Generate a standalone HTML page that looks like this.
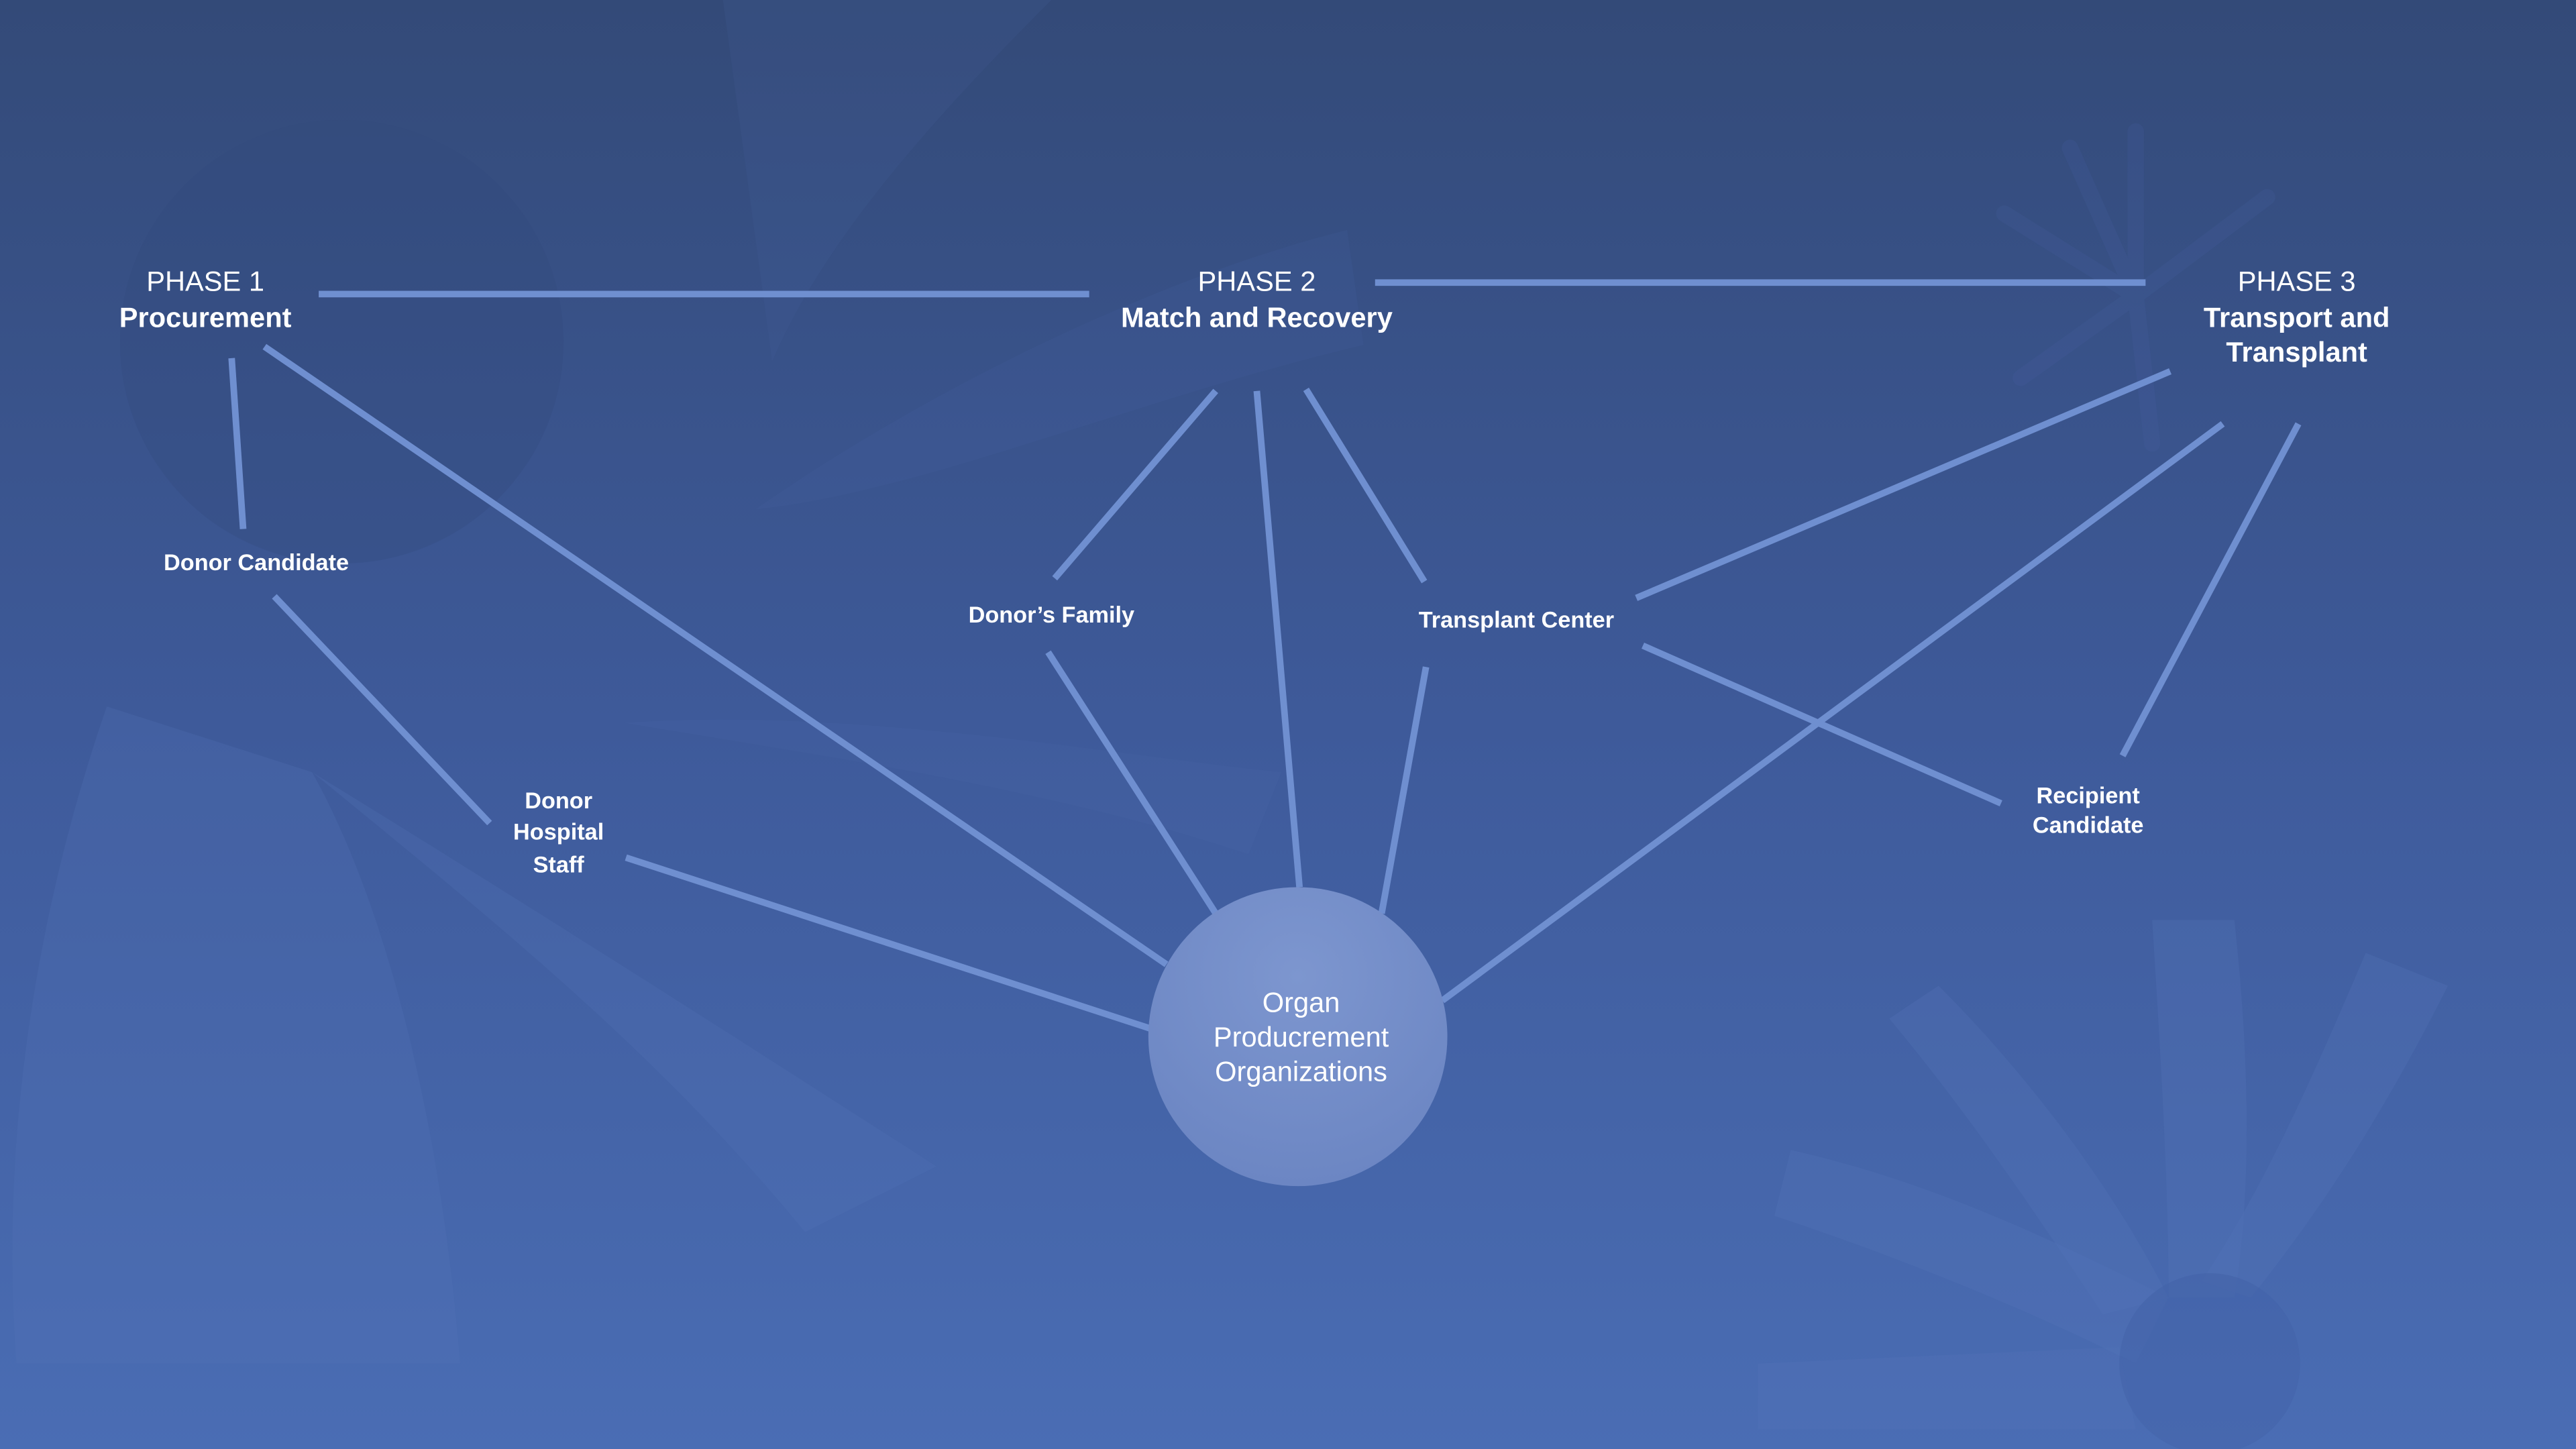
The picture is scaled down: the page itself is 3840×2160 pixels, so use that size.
<!DOCTYPE html>
<html><head><meta charset="utf-8"><style>
html,body{margin:0;padding:0;width:3840px;height:2160px;overflow:hidden}
svg{display:block}
text{font-family:"Liberation Sans",sans-serif;fill:#fff}
</style></head><body>
<svg width="3840" height="2160" viewBox="0 0 1568 882" xmlns="http://www.w3.org/2000/svg">
<defs>
<linearGradient id="bg" x1="0" y1="0" x2="0" y2="1">
<stop offset="0" stop-color="#334a78"/>
<stop offset="0.5" stop-color="#3e5a9a"/>
<stop offset="1" stop-color="#4a6db4"/>
</linearGradient>
<radialGradient id="cg" cx="0.5" cy="0.3" r="0.7">
<stop offset="0" stop-color="#7d96cf"/>
<stop offset="1" stop-color="#6c86c3"/>
</radialGradient>
</defs>
<rect width="1568" height="882" fill="url(#bg)"/>
<g opacity="0.5">
<circle cx="208" cy="208" r="135" fill="#33497d" opacity="0.6"/>
<path d="M65 430 C20 560 0 700 10 830 L280 830 C270 700 240 560 190 470 Z" fill="#5676b8" opacity="0.5"/>
<path d="M190 470 C320 550 430 620 570 710 L490 750 C400 640 300 560 190 470Z" fill="#5676b8" opacity="0.5"/>
<path d="M440 0 L520 0 L640 0 C560 80 500 150 470 220 Z" fill="#4a64a0" opacity="0.3"/>
<path d="M460 310 C560 240 700 170 820 140 L830 210 C700 240 560 300 460 310Z" fill="#4d68a8" opacity="0.3"/>
<path d="M380 440 C520 430 680 460 780 470 L760 520 C640 480 500 460 380 440Z" fill="#4f6cad" opacity="0.3"/>
<path d="M1090 700 C1180 720 1260 760 1320 790 L1300 830 C1220 790 1140 760 1080 740Z" fill="#5a7abd" opacity="0.5"/>
<path d="M1180 600 C1240 660 1290 730 1320 790 L1280 800 C1240 740 1200 680 1150 620Z" fill="#5a7abd" opacity="0.5"/>
<path d="M1310 560 L1360 560 C1370 650 1370 730 1360 790 L1320 790 C1320 720 1315 640 1310 560Z" fill="#5a7abd" opacity="0.5"/>
<path d="M1440 580 L1490 600 C1450 680 1410 740 1370 790 L1340 780 C1380 720 1410 650 1440 580Z" fill="#5a7abd" opacity="0.5"/>
<path d="M1070 830 L1290 820 L1300 870 L1070 870Z" fill="#5a7abd" opacity="0.4"/>
<circle cx="1345" cy="830" r="55" fill="#3f5ea3" opacity="0.6"/>
<g stroke="#4a66a6" stroke-width="10" opacity="0.35" stroke-linecap="round">
<line x1="1300" y1="180" x2="1300" y2="80"/>
<line x1="1300" y1="180" x2="1380" y2="120"/>
<line x1="1300" y1="180" x2="1220" y2="130"/>
<line x1="1300" y1="180" x2="1230" y2="230"/>
<line x1="1300" y1="180" x2="1310" y2="270"/>
<line x1="1300" y1="180" x2="1260" y2="90"/>
</g>
</g>
<g stroke="#6f8fd0" stroke-width="4" stroke-linecap="butt" fill="none">
<line x1="194" y1="179" x2="663" y2="179"/>
<line x1="837" y1="172" x2="1306" y2="172"/>
<line x1="141" y1="218" x2="148" y2="322"/>
<line x1="161" y1="211" x2="710" y2="587"/>
<line x1="167" y1="363" x2="298" y2="501"/>
<line x1="381" y1="522" x2="700" y2="626"/>
<line x1="740" y1="238" x2="642" y2="352"/>
<line x1="765" y1="238" x2="791" y2="540"/>
<line x1="795" y1="237" x2="867" y2="354"/>
<line x1="638" y1="397" x2="740" y2="556"/>
<line x1="868" y1="406" x2="841" y2="556"/>
<line x1="1321" y1="226" x2="996" y2="364"/>
<line x1="1353" y1="258" x2="878" y2="609"/>
<line x1="1399" y1="258" x2="1292" y2="460"/>
<line x1="1000" y1="393" x2="1218" y2="489"/>
</g>
<circle cx="790" cy="631" r="91" fill="url(#cg)"/>
<g text-anchor="middle">
<text x="125" y="177" font-size="17">PHASE 1</text>
<text x="125" y="199" font-size="17" font-weight="bold">Procurement</text>
<text x="765" y="177" font-size="17">PHASE 2</text>
<text x="765" y="199" font-size="17" font-weight="bold">Match and Recovery</text>
<text x="1398" y="177" font-size="17">PHASE 3</text>
<text x="1398" y="199" font-size="17" font-weight="bold">Transport and</text>
<text x="1398" y="220" font-size="17" font-weight="bold">Transplant</text>
<g font-size="14" font-weight="bold">
<text x="156" y="347">Donor Candidate</text>
<text x="640" y="379">Donor’s Family</text>
<text x="923" y="382">Transplant Center</text>
<text x="340" y="492">Donor</text>
<text x="340" y="511">Hospital</text>
<text x="340" y="531">Staff</text>
<text x="1271" y="489">Recipient</text>
<text x="1271" y="507">Candidate</text>
</g>
<g font-size="17">
<text x="792" y="616">Organ</text>
<text x="792" y="637">Producrement</text>
<text x="792" y="658">Organizations</text>
</g>
</g>
</svg>
</body></html>
